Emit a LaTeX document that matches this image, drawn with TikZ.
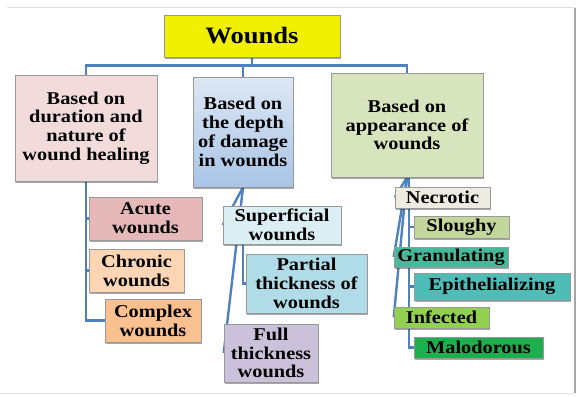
\documentclass[tikz,border=0pt]{standalone}
\usepackage{fontspec}
\setmainfont{Liberation Serif}[FakeStretch=1.13]
\usepackage{xcolor}
\usepackage{tikz}
\usetikzlibrary{shadows, positioning, backgrounds}

\definecolor{linkblue}{HTML}{4F81BD}
\definecolor{titleyellow}{HTML}{F0F000}
\definecolor{durpink}{HTML}{F2DCDB}
\definecolor{deptop}{HTML}{DDE7F3}
\definecolor{depbottom}{HTML}{A9C4E6}
\definecolor{appgreen}{HTML}{D7E4BD}
\definecolor{acutecol}{HTML}{E6B9B8}
\definecolor{chroniccol}{HTML}{FCD5B5}
\definecolor{complexcol}{HTML}{FAC090}
\definecolor{supcol}{HTML}{DBEEF4}
\definecolor{partcol}{HTML}{B0DCE8}
\definecolor{fullcol}{HTML}{CCC1DA}
\definecolor{necrcol}{HTML}{EEECE1}
\definecolor{sloughcol}{HTML}{C3D69B}
\definecolor{grancol}{HTML}{47B99A}
\definecolor{epicol}{HTML}{4FBDB7}
\definecolor{infcol}{HTML}{92D050}
\definecolor{malcol}{HTML}{1DAE4E}

\begin{document}
\begin{tikzpicture}[
          x=1pt, y=-1pt,
          every node/.style={draw=gray!80, line width=0.6pt, inner sep=1pt, align=center,
            font=\bfseries\fontsize{18}{18.8}\selectfont,
            drop shadow={shadow xshift=1.2pt, shadow yshift=-1.5pt, opacity=0.35, fill=black}},
          link/.style={linkblue, line width=2.4pt}
        ]
          \useasboundingbox (0,0) rectangle (580,396);
          \draw[gray!25, line width=1pt] (7,8) -- (575,8);
          \draw[gray!20, line width=1pt] (0,393) -- (575,393);
          \draw[gray!70, line width=1.2pt] (575,8) -- (575,393);

          \node[fill=titleyellow, minimum width=176, minimum height=42,
                font=\bfseries\fontsize{23.5}{25}\selectfont] (wounds) at (252,36) {Wounds};

          \node[fill=durpink, minimum width=142, minimum height=106] (dur) at (86,128)
            {Based on\\duration and\\nature of\\wound healing};
          \node[top color=deptop, bottom color=depbottom, minimum width=100, minimum height=110] (dep) at (243,132)
            {Based on\\the depth\\of damage\\in wounds};
          \node[fill=appgreen, minimum width=152, minimum height=104] (app) at (407,125)
            {Based on\\appearance of\\wounds};

          \node[fill=acutecol, minimum width=113, minimum height=43] (acu) at (145.5,218.5) {Acute\\wounds};
          \node[fill=chroniccol, minimum width=95, minimum height=43] (chr) at (136.5,270.5) {Chronic\\wounds};
          \node[fill=complexcol, minimum width=96, minimum height=43] (cpx) at (153,320.5) {Complex\\wounds};

          \node[fill=supcol, minimum width=118, minimum height=38] (sup) at (282,225) {Superficial\\wounds};
          \node[fill=partcol, minimum width=121, minimum height=59] (par) at (306.5,283.5) {Partial\\thickness of\\wounds};
          \node[fill=fullcol, minimum width=94, minimum height=58] (full) at (271,353) {Full\\thickness\\wounds};

          \node[fill=necrcol, minimum width=95, minimum height=21] (nec) at (442.5,197.5) {Necrotic};
          \node[fill=sloughcol, minimum width=95, minimum height=22] (slo) at (461.5,227) {Sloughy};
          \node[fill=grancol, minimum width=114, minimum height=20] (gra) at (451,257) {Granulating};
          \node[fill=epicol, minimum width=156, minimum height=27] (epi) at (492,286.5) {Epithelializing};
          \node[fill=infcol, minimum width=95, minimum height=21] (inf) at (441.5,317.5) {Infected};
          \node[fill=malcol, minimum width=129, minimum height=21] (mal) at (478.5,347.5) {Malodorous};

          \begin{scope}[on background layer]
          \draw[link] (wounds.south) -- ++(0,8) coordinate (hub);
          \draw[link] (hub) -| (dur.north);
          \draw[link] (hub) -| (dep.north);
          \draw[link] (hub) -| (app.north);

          \draw[link] (dur.south) |- (cpx.west);
          \draw[link] (acu.west) -- (acu.west -| dur.south);
          \draw[link] (chr.west) -- (chr.west -| dur.south);

          \draw[link] (dep.south) -- (sup.west);
          \draw[link] (dep.south) -- (full.west);
          \draw[link] (dep.south |- sup.south) |- (par.west);

          \draw[link] (app.south) -- (nec.west);
          \draw[link] (app.south) -- (gra.west);
          \draw[link] (app.south) -- (inf.west);
          \draw[link] (app.south) ++(2,0) |- (mal.west);
          \draw[link] (slo.west) -- ++(-5,0);
          \draw[link] (epi.west) -- ++(-5,0);
          \end{scope}
        \end{tikzpicture}
\end{document}
